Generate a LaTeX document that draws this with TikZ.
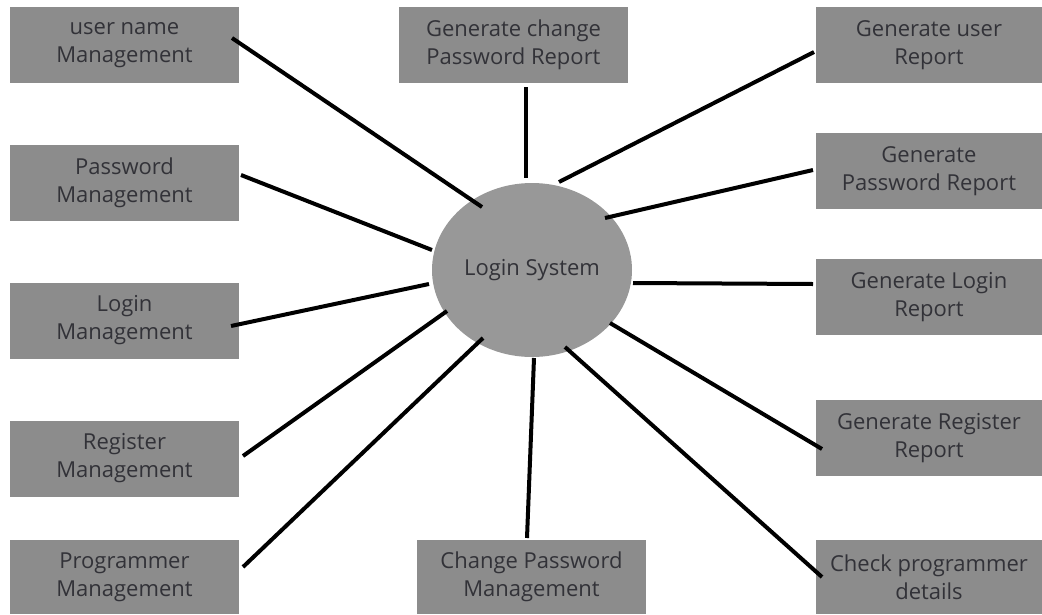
\documentclass[tikz,border=0pt]{standalone}
\usepackage{fontspec}
\setmainfont{Open Sans}
\usetikzlibrary{shapes.geometric,calc}
\definecolor{boxgray}{RGB}{140,140,140}
\definecolor{circgray}{RGB}{152,152,152}
\definecolor{txtgray}{RGB}{50,50,56}
\begin{document}
\begin{tikzpicture}[x=1pt,y=-1pt,
  box/.style={rectangle,fill=boxgray,draw=none,inner sep=0pt,minimum width=229pt,minimum height=76pt,
    align=center,text=txtgray,font=\fontsize{22}{28}\selectfont},
  rbox/.style={box,minimum width=226pt},
  hub/.style={ellipse,fill=circgray,draw=none,inner sep=0pt,minimum width=200pt,minimum height=174pt,
    text=txtgray,font=\fontsize{22}{28}\selectfont},
  link/.style={line width=4pt,black}]
\useasboundingbox (0,0) rectangle (1042,614);
% left column
\node[box] (un)  at (124.5,45)  {user name\\Management};
\node[box] (pm)  at (124.5,182.5) {Password\\Management};
\node[box] (lm)  at (124.5,320.5) {Login\\Management};
\node[box] (rm)  at (124.5,458.5) {Register\\Management};
\node[box,minimum height=74pt] (prm) at (124.5,577) {Programmer\\Management};
% middle
\node[box] (gcp) at (513.5,45) {Generate change\\Password Report};
\node[box,minimum height=74pt] (cpm) at (531.5,577) {Change Password\\Management};
% right column
\node[rbox] (gur) at (929,45)  {Generate user\\Report};
\node[rbox] (gpr) at (929,171) {Generate\\Password Report};
\node[rbox] (glr) at (929,297) {Generate Login\\Report};
\node[rbox] (grr) at (929,438) {Generate Register\\Report};
\node[rbox,minimum height=74pt] (cpd) at (929,577) {Check programmer\\details};
% hub
\node[hub] (ls) at (532,270) {Login System};
% connectors
\draw[link] ($(un)+(107.5,-7)$)   -- ($(ls)+(-50,-63)$);
\draw[link] ($(pm)+(116.5,-7.5)$) -- ($(ls)+(-100,-20)$);
\draw[link] ($(lm)+(106.5,5.5)$)  -- ($(ls)+(-103,14)$);
\draw[link] ($(rm)+(118.5,-2.5)$) -- ($(ls)+(-85,41)$);
\draw[link] ($(prm)+(118.5,-10)$) -- ($(ls)+(-49,68)$);
\draw[link] ($(gcp)+(12.5,42)$)   -- ($(ls)+(-6,-92)$);
\draw[link] ($(gur)+(-115,7)$)    -- ($(ls)+(27,-88)$);
\draw[link] ($(gpr)+(-116,-1)$)   -- ($(ls)+(73,-52)$);
\draw[link] ($(glr)+(-116,-13)$)  -- ($(ls)+(101,13)$);
\draw[link] ($(grr)+(-107,11)$)   -- ($(ls)+(78,53)$);
\draw[link] ($(cpd)+(-107,0)$)    -- ($(ls)+(33,77)$);
\draw[link] ($(cpm)+(-4.5,-39)$)  -- ($(ls)+(2,88)$);
\end{tikzpicture}
\end{document}
